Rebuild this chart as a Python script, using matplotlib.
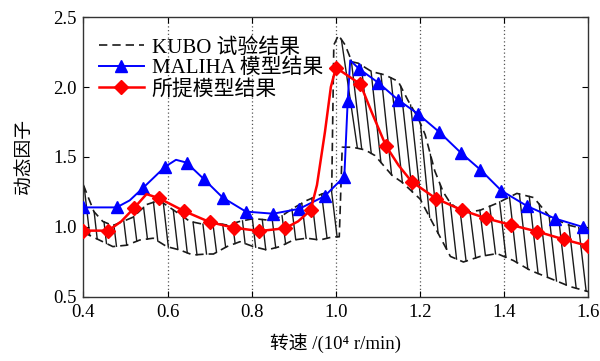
import numpy as np
import matplotlib
matplotlib.use("Agg")
import matplotlib.pyplot as plt

plt.rcParams['font.family'] = ['Liberation Serif', 'Noto Sans CJK SC']

# KUBO 试验结果: upper / lower envelope of the measured band
kubo_up_x = [0.40, 0.425, 0.446, 0.47, 0.494, 0.518, 0.55, 0.58, 0.605, 0.629, 0.653,
             0.684, 0.709, 0.741, 0.772, 0.804, 0.836, 0.867, 0.899, 0.931, 0.962,
             0.990, 0.995, 1.006, 1.022, 1.038, 1.053, 1.085, 1.117, 1.148, 1.172,
             1.195, 1.212, 1.235, 1.255, 1.272, 1.303, 1.343, 1.383, 1.43, 1.47,
             1.509, 1.557, 1.60]
kubo_up_y = [1.30, 1.11, 1.04, 1.01, 1.04, 1.07, 1.16, 1.19, 1.14, 1.09, 1.04,
             1.02, 1.03, 1.014, 1.04, 1.06, 1.05, 1.07, 1.135, 1.19, 1.23,
             1.26, 2.30, 2.37, 2.30, 2.18, 2.17, 2.11, 2.086, 2.04, 1.90,
             1.78, 1.66, 1.40, 1.25, 1.17, 1.10, 1.12, 1.17, 1.24, 1.21,
             1.07, 1.01, 0.98]
kubo_lo_x = [0.40, 0.415, 0.446, 0.47, 0.503, 0.534, 0.566, 0.598, 0.629, 0.66, 0.693,
             0.709, 0.741, 0.772, 0.804, 0.836, 0.867, 0.899, 0.931, 0.962, 0.993,
             1.008, 1.015, 1.04, 1.07, 1.093, 1.133, 1.157, 1.20, 1.235, 1.272,
             1.303, 1.343, 1.383, 1.422, 1.462, 1.509, 1.557, 1.60]
kubo_lo_y = [0.96, 0.94, 0.895, 0.86, 0.87, 0.907, 0.92, 0.86, 0.836, 0.80, 0.807,
             0.807, 0.86, 0.895, 0.86, 0.836, 0.86, 0.907, 0.92, 0.907, 0.93,
             0.93, 1.57, 1.57, 1.55, 1.51, 1.37, 1.32, 1.20, 1.00, 0.79,
             0.75, 0.79, 0.81, 0.76, 0.69, 0.633, 0.574, 0.538]

# MALIHA 模型结果
maliha_x = [0.40, 0.479, 0.51, 0.542, 0.594, 0.62, 0.645, 0.687, 0.731, 0.786, 0.851,
            0.913, 0.973, 1.020, 1.028, 1.034, 1.055, 1.101, 1.147, 1.194, 1.245,
            1.297, 1.343, 1.393, 1.454, 1.521, 1.587]
maliha_y = [1.14, 1.14, 1.19, 1.28, 1.43, 1.48, 1.46, 1.34, 1.21, 1.11, 1.095,
            1.13, 1.22, 1.36, 1.90, 2.19, 2.13, 2.03, 1.91, 1.81, 1.68,
            1.53, 1.41, 1.26, 1.15, 1.06, 1.00]
maliha_marks = [0, 1, 3, 4, 6, 7, 8, 9, 10, 11, 12, 13, 14, 16, 17, 18, 19, 20,
                21, 22, 23, 24, 25, 26]

# 所提模型结果
model_x = [0.40, 0.459, 0.49, 0.520, 0.55, 0.580, 0.639, 0.701, 0.758, 0.818, 0.879,
           0.91, 0.940, 0.955, 0.974, 0.988, 1.000, 1.058, 1.085, 1.119, 1.149,
           1.180, 1.238, 1.299, 1.357, 1.417, 1.479, 1.541, 1.600]
model_y = [0.974, 0.974, 1.04, 1.134, 1.235, 1.205, 1.114, 1.034, 0.995, 0.971, 0.991,
           1.04, 1.12, 1.30, 1.68, 2.00, 2.138, 2.021, 1.82, 1.579, 1.44,
           1.324, 1.203, 1.121, 1.062, 1.014, 0.967, 0.912, 0.864]
model_marks = [0, 1, 3, 5, 6, 7, 8, 9, 10, 12, 16, 17, 19, 21, 22, 23, 24, 25, 26,
               27, 28]

xticks = [0.4, 0.6, 0.8, 1.0, 1.2, 1.4, 1.6]
yticks = [0.5, 1.0, 1.5, 2.0, 2.5]

fig = plt.figure(figsize=(6, 3.61), dpi=100)
ax = fig.add_axes([0.139, 0.1773, 0.8417, 0.7756])

# hatch strokes between the envelopes, slanted down to the right
xs = np.arange(0.402, 1.6, 0.0235)
for x0 in xs:
    top = np.interp(x0, kubo_up_x, kubo_up_y)
    bot0 = np.interp(x0, kubo_lo_x, kubo_lo_y)
    x1 = min(x0 + 0.04 * (top - bot0), 1.6)
    bot = np.interp(x1, kubo_lo_x, kubo_lo_y)
    ax.plot([x0, x1], [top, bot], color='#1a1a1a', lw=1.0, zorder=1)

ax.plot(kubo_up_x, kubo_up_y, color='#1a1a1a', lw=1.2, dashes=(5, 3),
        label='KUBO 试验结果', zorder=2)
ax.plot(kubo_lo_x, kubo_lo_y, color='#1a1a1a', lw=1.2, dashes=(5, 3), zorder=2)

ax.plot(maliha_x, maliha_y, color='#0000ff', lw=1.4, marker='^', ms=9,
        markevery=maliha_marks, label='MALIHA 模型结果', zorder=3)
ax.plot(model_x, model_y, color='#ff0000', lw=1.8, marker='D', ms=7.5,
        markevery=model_marks, label='所提模型结果', zorder=4)

for gx in xticks[1:-1]:
    ax.axvline(gx, color='#555555', lw=0.9, ls=(0, (1, 2)), zorder=0)

ax.set_xlim(0.4, 1.6)
ax.set_ylim(0.5, 2.5)
ax.set_xticks(xticks)
ax.set_yticks(yticks)
ax.set_xticklabels(['%.1f' % v for v in xticks])
ax.set_yticklabels(['%.1f' % v for v in yticks])
ax.tick_params(direction='in', length=4, top=True, right=True, labelsize=13.5, pad=5)
for s in ax.spines.values():
    s.set_color('#333333')
    s.set_linewidth(1.0)

ax.set_xlabel('转速 /(10⁴ r/min)', fontsize=13.5, labelpad=9)
ax.set_ylabel('动态因子', fontsize=13.5, labelpad=14)

ax.legend(loc='upper left', bbox_to_anchor=(0.03, 0.925), frameon=False,
          fontsize=15, handlelength=2.2, handletextpad=0.35, labelspacing=0.05,
          borderaxespad=0.0, borderpad=0.0)

fig.savefig('out.png', dpi=100)
